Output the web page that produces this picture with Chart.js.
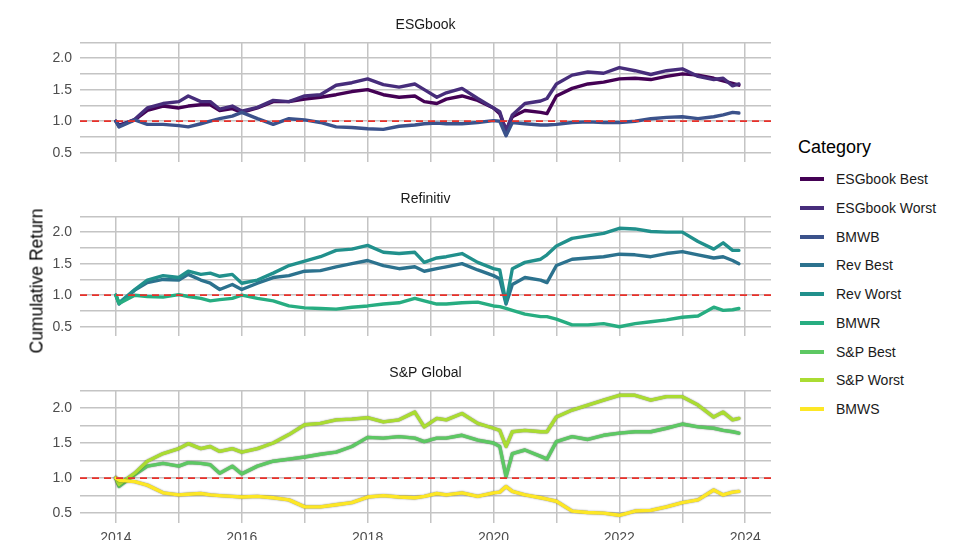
<!DOCTYPE html>
<html>
<head>
<meta charset="utf-8">
<script src="https://cdn.jsdelivr.net/npm/chart.js@4.4.1/dist/chart.umd.min.js"></script>
<style>
  html, body { margin: 0; padding: 0; background: #fff; width: 960px; height: 540px; overflow: hidden; }
  body { position: relative; font-family: "Liberation Sans", Arial, sans-serif; }
  canvas { position: absolute; left: 0; }
  #ytitle {
    position: absolute; left: 37px; top: 281px; white-space: nowrap;
    transform: translate(-50%, -50%) rotate(-90deg);
    font-size: 17.5px; color: #000;
  }
  #legend-title { position: absolute; left: 798px; top: 136px; font-size: 18px; color: #000; line-height: 22px; }
  .item { position: absolute; left: 800px; height: 20px; font-size: 14px; color: #1a1a1a; line-height: 20px; }
  .item .key { position: absolute; left: 0; top: 8px; width: 24px; height: 4px; }
  .item .lab { position: absolute; left: 36px; top: 0; white-space: nowrap; }
</style>
</head>
<body>
<canvas id="p1" width="780" height="178" style="top:0px"></canvas>
<canvas id="p2" width="780" height="178" style="top:174px"></canvas>
<canvas id="p3" width="780" height="200" style="top:348px"></canvas>
<div id="ytitle">Cumulative Return</div>
<div id="legend-title">Category</div>
<div id="legend"></div>
<script>
// time axis, decimal years
const dates = [2014.0, 2014.05, 2014.3, 2014.5, 2014.75, 2015.0, 2015.15, 2015.35, 2015.5, 2015.65,
  2015.85, 2016.0, 2016.25, 2016.5, 2016.75, 2017.0, 2017.25, 2017.5, 2017.75, 2018.0,
  2018.25, 2018.5, 2018.75, 2018.9, 2019.1, 2019.25, 2019.5, 2019.75, 2020.0, 2020.1,
  2020.2, 2020.3, 2020.5, 2020.75, 2020.85, 2021.0, 2021.25, 2021.5, 2021.75, 2022.0,
  2022.25, 2022.5, 2022.75, 2023.0, 2023.25, 2023.5, 2023.65, 2023.8, 2023.9];

const categories = ['ESGbook Best', 'ESGbook Worst', 'BMWB', 'Rev Best', 'Rev Worst',
  'BMWR', 'S&P Best', 'S&P Worst', 'BMWS'];
const panelTitles = ['ESGbook', 'Refinitiv', 'S&P Global'];
const yTickLabels = [0.5, 1.0, 1.5, 2.0];
const xTickLabels = [2014, 2016, 2018, 2020, 2022, 2024];
const baseline = 1;

const esgbookBest = [1.00, 0.94, 1.02, 1.17, 1.24, 1.21, 1.24, 1.26, 1.26, 1.17,
  1.20, 1.14, 1.21, 1.31, 1.31, 1.35, 1.38, 1.42, 1.47, 1.50,
  1.42, 1.38, 1.40, 1.31, 1.28, 1.35, 1.40, 1.33, 1.21, 1.12,
  0.86, 1.07, 1.17, 1.14, 1.12, 1.40, 1.52, 1.59, 1.62, 1.67,
  1.68, 1.66, 1.71, 1.75, 1.73, 1.68, 1.64, 1.60, 1.57];
const esgbookWorst = [1.00, 0.92, 1.03, 1.21, 1.28, 1.31, 1.40, 1.31, 1.31, 1.19,
  1.24, 1.16, 1.22, 1.33, 1.31, 1.40, 1.42, 1.57, 1.61, 1.67,
  1.58, 1.54, 1.59, 1.50, 1.38, 1.45, 1.52, 1.36, 1.21, 1.15,
  0.84, 1.10, 1.28, 1.32, 1.36, 1.59, 1.73, 1.78, 1.76, 1.85,
  1.80, 1.74, 1.80, 1.83, 1.71, 1.66, 1.68, 1.56, 1.59];
const bmwb = [1.00, 0.91, 1.02, 0.95, 0.95, 0.93, 0.91, 0.96, 1.00, 1.04,
  1.08, 1.14, 1.04, 0.95, 1.04, 1.02, 0.98, 0.91, 0.90, 0.88,
  0.87, 0.92, 0.94, 0.96, 0.97, 0.96, 0.96, 0.98, 1.01, 1.00,
  0.77, 0.98, 0.96, 0.94, 0.94, 0.95, 0.98, 0.99, 0.98, 0.98,
  1.00, 1.04, 1.06, 1.07, 1.04, 1.07, 1.10, 1.14, 1.13];
const revBest = [1.00, 0.86, 1.08, 1.20, 1.25, 1.24, 1.33, 1.24, 1.19, 1.09,
  1.17, 1.09, 1.19, 1.28, 1.31, 1.38, 1.39, 1.45, 1.50, 1.55,
  1.47, 1.42, 1.45, 1.38, 1.42, 1.45, 1.50, 1.40, 1.31, 1.26,
  0.86, 1.17, 1.28, 1.24, 1.20, 1.47, 1.57, 1.59, 1.61, 1.65,
  1.64, 1.61, 1.66, 1.69, 1.64, 1.59, 1.61, 1.55, 1.50];
const revWorst = [1.00, 0.88, 1.09, 1.24, 1.31, 1.28, 1.38, 1.33, 1.35, 1.30,
  1.33, 1.19, 1.24, 1.35, 1.47, 1.54, 1.61, 1.71, 1.73, 1.79,
  1.68, 1.66, 1.68, 1.52, 1.59, 1.61, 1.66, 1.52, 1.42, 1.40,
  0.88, 1.42, 1.52, 1.57, 1.64, 1.78, 1.90, 1.94, 1.98, 2.06,
  2.05, 2.01, 2.00, 2.00, 1.85, 1.73, 1.83, 1.71, 1.71];
const bmwr = [1.00, 0.87, 1.00, 0.98, 0.97, 1.01, 0.98, 0.95, 0.91, 0.93,
  0.95, 1.00, 0.95, 0.91, 0.83, 0.80, 0.79, 0.78, 0.81, 0.83,
  0.86, 0.88, 0.95, 0.91, 0.86, 0.86, 0.88, 0.89, 0.83, 0.82,
  0.79, 0.76, 0.70, 0.66, 0.66, 0.62, 0.53, 0.53, 0.55, 0.50,
  0.55, 0.58, 0.61, 0.65, 0.67, 0.81, 0.76, 0.77, 0.79];
const spBest = [1.00, 0.88, 1.05, 1.17, 1.21, 1.17, 1.22, 1.21, 1.19, 1.07,
  1.17, 1.06, 1.17, 1.24, 1.27, 1.30, 1.34, 1.37, 1.45, 1.58,
  1.57, 1.59, 1.57, 1.52, 1.57, 1.57, 1.61, 1.54, 1.50, 1.45,
  1.02, 1.35, 1.40, 1.31, 1.27, 1.52, 1.59, 1.55, 1.61, 1.64,
  1.66, 1.66, 1.71, 1.77, 1.73, 1.71, 1.68, 1.66, 1.64];
const spWorst = [1.00, 0.91, 1.07, 1.24, 1.35, 1.42, 1.49, 1.42, 1.45, 1.38,
  1.42, 1.37, 1.42, 1.50, 1.62, 1.76, 1.78, 1.83, 1.84, 1.86,
  1.80, 1.83, 1.94, 1.73, 1.85, 1.83, 1.92, 1.78, 1.71, 1.68,
  1.45, 1.66, 1.68, 1.66, 1.66, 1.87, 1.97, 2.04, 2.11, 2.18,
  2.18, 2.11, 2.16, 2.16, 2.04, 1.87, 1.94, 1.83, 1.85];
const bmws = [1.00, 0.97, 0.95, 0.90, 0.79, 0.76, 0.77, 0.78, 0.76, 0.75,
  0.74, 0.73, 0.74, 0.72, 0.69, 0.59, 0.59, 0.62, 0.65, 0.73,
  0.75, 0.73, 0.72, 0.74, 0.78, 0.76, 0.79, 0.74, 0.79, 0.80,
  0.88, 0.81, 0.76, 0.72, 0.70, 0.67, 0.53, 0.51, 0.50, 0.47,
  0.53, 0.54, 0.59, 0.65, 0.69, 0.83, 0.76, 0.80, 0.81];

const seriesValues = [esgbookBest, esgbookWorst, bmwb, revBest, revWorst, bmwr, spBest, spWorst, bmws];
const colors = ['#440154', '#472D7B', '#3B528B', '#2C728E', '#21908C', '#27AD81', '#5DC863', '#AADC32', '#FDE725'];

const FONT = '"Liberation Sans", Arial, sans-serif';
const xMin = 2013.43, xMax = 2024.41;

// thin dark edge around the S&P lines, as in the original
const outline = {
  id: 'outline',
  beforeDatasetDraw(chart, args) {
    if (chart.data.datasets[args.index].label === 'baseline') return;
    chart.ctx.save();
    chart.ctx.shadowColor = 'rgba(30,30,30,0.6)';
    chart.ctx.shadowBlur = 1.5;
  },
  afterDatasetDraw(chart, args) {
    if (chart.data.datasets[args.index].label === 'baseline') return;
    chart.ctx.restore();
  }
};

function makePanel(id, title, members, showX) {
  const datasets = members.map(i => ({
    label: categories[i],
    data: dates.map((d, k) => ({ x: d, y: seriesValues[i][k] })),
    borderColor: colors[i],
    borderWidth: 3.4,
    borderJoinStyle: 'round',
    borderCapStyle: 'round',
    pointRadius: 0,
    tension: 0,
    order: -i
  }));
  datasets.push({
    label: 'baseline',
    data: [{ x: xMin, y: baseline }, { x: xMax, y: baseline }],
    borderColor: '#e8302a',
    borderWidth: 1.8,
    borderDash: [7, 5],
    pointRadius: 0,
    order: -100
  });

  new Chart(document.getElementById(id), {
    type: 'line',
    data: { datasets: datasets },
    plugins: showX ? [outline] : [],
    options: {
      responsive: false,
      animation: false,
      layout: { padding: { left: 0, right: 9, top: 0, bottom: 0 } },
      plugins: {
        legend: { display: false },
        tooltip: { enabled: false },
        title: {
          display: true, text: title, fullSize: false, color: '#1a1a1a',
          font: { family: FONT, size: 14, weight: 'normal' },
          padding: { top: 16.6, bottom: 8.6 }
        }
      },
      scales: {
        x: {
          type: 'linear', min: xMin, max: xMax,
          border: { display: false },
          grid: { color: '#c4c4c4', lineWidth: 1.5, drawTicks: false },
          ticks: {
            display: showX, stepSize: 1, includeBounds: false, autoSkip: false, maxRotation: 0,
            padding: 7, color: '#4d4d4d', font: { family: FONT, size: 14 },
            callback: v => xTickLabels.includes(v) ? String(v) : ''
          },
          afterFit: s => { s.height = showX ? 25 : 3; }
        },
        y: {
          min: 0.36, max: 2.255,
          border: { display: false },
          grid: { color: '#c4c4c4', lineWidth: 1.5, drawTicks: false },
          ticks: {
            stepSize: 0.25, includeBounds: false, autoSkip: false, padding: 8,
            color: '#4d4d4d', font: { family: FONT, size: 14 },
            callback: v => yTickLabels.includes(v) ? v.toFixed(1) : ''
          },
          afterFit: s => { s.width = 80; }
        }
      }
    }
  });
}

makePanel('p1', panelTitles[0], [0, 1, 2], false);
makePanel('p2', panelTitles[1], [3, 4, 5], false);
makePanel('p3', panelTitles[2], [6, 7, 8], true);

// legend
const legend = document.getElementById('legend');
categories.forEach((c, i) => {
  const item = document.createElement('div');
  item.className = 'item';
  item.style.top = (169.3 + 28.7 * i) + 'px';
  item.innerHTML = '<div class="key" style="background:' + colors[i] + '"></div><div class="lab"></div>';
  item.querySelector('.lab').textContent = c;
  legend.appendChild(item);
});
</script>
</body>
</html>
